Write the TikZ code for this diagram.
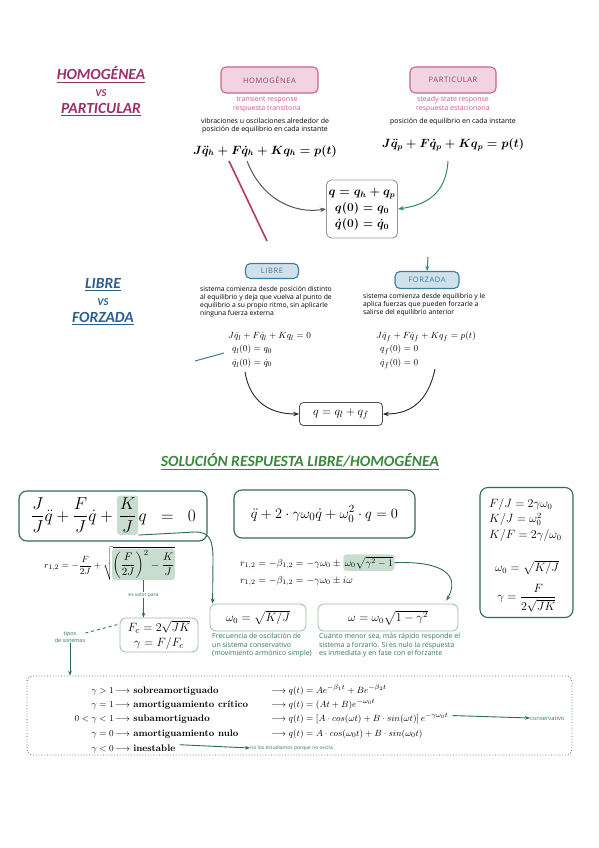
\documentclass[tikz,border=0pt]{standalone}
\usepackage{amsmath,amssymb}
\usepackage{fontspec}
\newfontfamily\titlefont{Carlito}
\newfontfamily\handfont{Open Sans}
\newfontfamily\tagfont[LetterSpace=8]{Open Sans}
\usetikzlibrary{arrows.meta,calc,backgrounds}
\definecolor{maroon}{HTML}{9B2F6E}
\definecolor{pinkfill}{HTML}{F2D4E0}
\definecolor{pinkdraw}{HTML}{C8658E}
\definecolor{pinktext}{HTML}{D0578A}
\definecolor{libblue}{HTML}{2D5F8E}
\definecolor{bluefill}{HTML}{CFE2EB}
\definecolor{bluedraw}{HTML}{3D7C9C}
\definecolor{titlegreen}{HTML}{3B873E}
\definecolor{dgreen}{HTML}{2F6B57}
\definecolor{hl}{HTML}{C8DDD0}
\definecolor{lgreen}{HTML}{9CBBA8}
\definecolor{txtgreen}{HTML}{2F7A55}
\definecolor{arrgray}{HTML}{555555}
\definecolor{redline}{HTML}{B43A66}
\definecolor{tealarrow}{HTML}{2E8B6A}
\newcommand\sqcontent{\left(\dfrac{F}{2J}\right)^2-\dfrac{K}{J}}
\begin{document}
\begin{tikzpicture}[x=1pt,y=-1pt,
  ttl/.style={font=\titlefont\bfseries\itshape\fontsize{15.5}{17}\selectfont, inner sep=0},
  vs/.style={font=\titlefont\bfseries\itshape\fontsize{10.5}{11}\selectfont, inner sep=0},
  tag/.style={rounded corners=5, line width=1.1pt, inner sep=0, font=\tagfont\fontsize{7.5}{8}\selectfont},
  pinktag/.style={tag, draw=pinkdraw, fill=pinkfill, text=pinkdraw!70!black},
  bluetag/.style={tag, draw=bluedraw, fill=bluefill, text=bluedraw},
  note/.style={font=\handfont\fontsize{7}{8.6}\selectfont, align=left, inner sep=0},
  cnote/.style={note, align=center},
  tiny/.style={font=\handfont\fontsize{5}{6}\selectfont, inner sep=0, text=txtgreen},
  gbox/.style={draw=dgreen, line width=1.1pt, rounded corners=8, inner sep=0},
  lbox/.style={draw=lgreen, line width=0.8pt, rounded corners=6, inner sep=0},
  hlnode/.style={fill=hl, rounded corners=3, inner xsep=1.5pt, inner ysep=2pt},
  chain/.style={inner xsep=0, inner ysep=2pt},
  garrow/.style={draw=dgreen, line width=0.9pt, -{Stealth[length=5pt]}},
  karrow/.style={draw=black!85, line width=0.9pt, -{Stealth[length=6pt]}},
  row/.style={font=\fontsize{9.5}{11}\selectfont, inner sep=0},
]
\useasboundingbox (0,0) rectangle (599,848);
\begin{scope}[on background layer]
\fill[white] (0,0) rectangle (599,848);
\end{scope}

% ---------------- HOMOGENEA vs PARTICULAR ----------------
\node[ttl,text=maroon] (tH) at (101,75) {\underline{HOMOGÉNEA}};
\node[vs,text=maroon] (tvs1) at (101,93) {VS};
\node[ttl,text=maroon] (tP) at (101,110) {\underline{PARTICULAR}};

\node[pinktag, minimum width=97, minimum height=26] (hbox) at (269.5,80) {HOMOGÉNEA};
\node[cnote, text=pinktext] (htr) at (267,104) {transient response\\respuesta transitoria};
\node[cnote] (hvib) at (265,125.5) {vibraciones u oscilaciones alrededor de\\posición de equilibrio en cada instante};
\node[font=\boldmath\fontsize{12}{14}\selectfont, inner sep=0] (heq) at (265,151) {$J\ddot{q}_h+F\dot{q}_h+Kq_h=p(t)$};

\node[pinktag, minimum width=86, minimum height=26] (pbox) at (453,80) {PARTICULAR};
\node[cnote, text=pinktext] (ptr) at (453,104) {steady-state response\\respuesta estacionaria};
\node[cnote] (pvib) at (453,122) {posición de equilibrio en cada instante};
\node[font=\boldmath\fontsize{12}{14}\selectfont, inner sep=0] (peq) at (453,145) {$J\ddot{q}_p+F\dot{q}_p+Kq_p=p(t)$};

\node[draw=gray!80, line width=0.9pt, rounded corners=5, minimum width=71, minimum height=58, align=center, inner sep=0,
      font=\boldmath\fontsize{11.5}{16}\selectfont] (sumbox) at (362,209) {$q=q_h+q_p$\\$q(0)=q_0$\\$\dot q(0)=\dot q_0$};

\coordinate (gs) at (247,161);
\draw[arrgray, line width=1pt, -{Stealth[length=6pt]}] (gs) .. controls (262,200) and (295,214) .. (sumbox.west);
\coordinate (gns) at (448,161);
\draw[tealarrow, line width=1pt, -{Stealth[length=6pt]}] (gns) .. controls (446,195) and (425,205) .. (sumbox.east);
\coordinate (r1) at (229,161);
\coordinate (r2) at (267,241);
\draw[redline, line width=1.6pt] (r1) -- (r2);

% ---------------- LIBRE vs FORZADA ----------------
\node[ttl,text=libblue] (tL) at (103,285) {\underline{LIBRE}};
\node[vs,text=libblue] (tvs2) at (103,302) {VS};
\node[ttl,text=libblue] (tF) at (103,319) {\underline{FORZADA}};

\node[bluetag, minimum width=53, minimum height=15] (lbox) at (272,271) {LIBRE};
\node[note, anchor=north west, font=\handfont\fontsize{6.8}{8}\selectfont] (ldesc) at (200,286) {sistema comienza desde posición distinto\\al equilibrio y deja que vuelva al punto de\\equilibrio a su propio ritmo, sin aplicarle\\ninguna fuerza externa};

\node[bluetag, minimum width=64, minimum height=17] (fbox) at (427,280) {FORZADA};
\coordinate (fa) at (428,257);
\draw[tealarrow, line width=1pt, -{Stealth[length=5pt]}] (fa) -- (fbox.north);
\node[note, anchor=north west, font=\handfont\fontsize{6.8}{8}\selectfont] (fdesc) at (363,293) {sistema comienza desde equilibrio y le\\aplica fuerzas que pueden forzarle a\\salirse del equilibrio anterior};

\node[align=left, anchor=west, font=\fontsize{9.3}{13.5}\selectfont, inner sep=0] (leq) at (228,350)
  {$J\ddot{q}_l+F\dot{q}_l+Kq_l=0$\\\hspace*{4pt}$q_l(0)=q_0$\\\hspace*{4pt}$\dot q_l(0)=\dot q_0$};
\coordinate (bl) at (195,361);
\draw[bluedraw, line width=1pt] (bl) -- ($(leq.west)+(-4,3)$);

\node[align=left, anchor=west, font=\fontsize{9.3}{13.5}\selectfont, inner sep=0] (feq) at (376,350)
  {$J\ddot{q}_f+F\dot{q}_f+Kq_f=p(t)$\\\hspace*{4pt}$q_f(0)=0$\\\hspace*{4pt}$\dot q_f(0)=0$};

\node[draw=black!70, rounded corners=4, line width=0.8pt, minimum width=83, minimum height=23, inner sep=0,
      font=\fontsize{13}{15}\selectfont] (qbox) at (341,414) {$q=q_l+q_f$};
\coordinate (la) at (245,372);
\draw[karrow] (la) .. controls (250,402) and (270,414) .. (qbox.west);
\coordinate (ra) at (435,369);
\draw[karrow] (ra) .. controls (428,402) and (410,414) .. (qbox.east);

% ---------------- SOLUCION ----------------
\node[font=\titlefont\bfseries\itshape\fontsize{15.6}{17}\selectfont, inner sep=0, text=titlegreen] (tS) at (300,462)
  {\underline{SOLUCIÓN RESPUESTA LIBRE/HOMOGÉNEA}};

% box 1
\node[gbox, minimum width=188, minimum height=50] (b1) at (113,516) {};
\node[chain, anchor=base west, font=\fontsize{16}{18}\selectfont] (e1) at (31,521) {$\dfrac{J}{J}\ddot{q}+\dfrac{F}{J}\dot{q}+{}$};
\node[hlnode, anchor=base west, font=\fontsize{16}{18}\selectfont] (hlK) at (e1.base east) {$\dfrac{K}{J}$};
\node[chain, anchor=base west, font=\fontsize{16}{18}\selectfont] (e3) at (hlK.base east) {$q\;\;=\;\;0$};

% box 2
\node[gbox, minimum width=181, minimum height=48, font=\fontsize{15}{17}\selectfont] (b2) at (324.5,514) {$\ddot q+2\cdot\gamma\omega_0\dot q+\omega_0^2\cdot q=0$};

% box 3
\node[gbox, minimum width=93, minimum height=130] (b3) at (526.5,552.5) {};
\node[font=\fontsize{11.5}{15.5}\selectfont, align=left, anchor=north west, inner sep=0] (b3a) at (489,498)
  {$F/J=2\gamma\omega_0$\\$K/J=\omega_0^2$\\$K/F=2\gamma/\omega_0$};
\node[font=\fontsize{11.5}{14}\selectfont, inner sep=0] (b3b) at (527,568) {$\omega_0=\sqrt{K/J}$};
\node[font=\fontsize{11.5}{14}\selectfont, inner sep=0] (b3c) at (527,598) {$\gamma=\dfrac{F}{2\sqrt{JK}}$};

% r equations
\node[chain, anchor=base west, font=\fontsize{9.5}{11}\selectfont] (rs) at (44,568)
  {$r_{1,2}=-\dfrac{F}{2J}+\sqrt{\mbox{\fontsize{11}{13}\selectfont$\displaystyle\phantom{\sqcontent}$}}$};
\begin{scope}[on background layer]
\node[fill=hl, rounded corners=3, inner xsep=0.5pt, inner ysep=1.5pt, anchor=base east, font=\fontsize{11}{13}\selectfont] (hlS) at (rs.base east)
  {$\displaystyle\sqcontent$};
\end{scope}

\node[chain, anchor=base west, font=\fontsize{10}{12}\selectfont] (rl1) at (240,566) {$r_{1,2}=-\beta_{1,2}=-\gamma\omega_0\pm{}$};
\node[hlnode, anchor=base west, font=\fontsize{10}{12}\selectfont] (hlW) at (rl1.base east) {$\omega_0\sqrt{\gamma^2-1}$};
\node[chain, anchor=base west, font=\fontsize{10}{12}\selectfont] (rl2) at (240,583) {$r_{1,2}=-\beta_{1,2}=-\gamma\omega_0\pm i\omega$};

% small boxes
\node[lbox, minimum width=78, minimum height=34, align=center, font=\fontsize{12.5}{15}\selectfont] (fcbox) at (159,635)
  {$F_c=2\sqrt{JK}$\\$\gamma=F/F_c$};
\node[lbox, minimum width=96, minimum height=27, font=\fontsize{11.5}{13}\selectfont] (w0box) at (258,617.5) {$\omega_0=\sqrt{K/J}$};
\node[note, text=txtgreen, anchor=north west] (w0note) at (212,633) {Frecuencia de oscilación de\\un sistema conservativo\\(movimiento armónico simple)};
\node[lbox, minimum width=140, minimum height=27, font=\fontsize{12}{13}\selectfont] (wbox) at (388,617.5) {$\omega=\omega_0\sqrt{1-\gamma^2}$};
\node[note, text=txtgreen, anchor=north west] (wnote) at (319,633) {Cuanto menor sea, más rápido responde el\\sistema a forzarlo. Si es nulo la respuesta\\es inmediata y en fase con el forzante};

% connectors in solution
\path (hlS.south) ++(0,15) node[tiny] (valor) {es valor para};
\draw[dgreen, line width=0.9pt] (hlS.south) -- (valor.north);
\draw[garrow] (valor.south) -- (valor.south |- fcbox.north);
\coordinate (w0in) at ($(w0box.north west)+(3,0)$);
\draw[garrow] (hlK.south east) -- (195,532) .. controls (210,532) and (213,540) .. (213,560) -- (w0in);
\coordinate (win) at ($(wbox.north east)+(-12,-3)$);
\draw[garrow] (hlW.east) .. controls (445,561) and (460,576) .. (win);

\node[tiny, align=center, font=\handfont\fontsize{5.5}{7}\selectfont] (tipos) at (70,637) {tipos\\de sistemas};
\draw[txtgreen, dashed, line width=0.9pt] ($(tipos.east)+(0,-4)$) -- ($(fcbox.west)+(0,-11)$);

% types
\node[draw=txtgreen, dotted, line width=0.8pt, rounded corners=6, minimum width=545, minimum height=79, inner sep=0] (types) at (299.5,715.5) {};
\draw[garrow] (tipos.south) -- (tipos.south |- types.north);

\node[row, anchor=base east] (c1) at (114,693) {$\gamma>1$};
\node[row, anchor=base west] (n1) at (115,693) {$\longrightarrow$ \textbf{sobreamortiguado}};
\node[row, anchor=base west] (s1) at (271,693) {$\longrightarrow q(t)=Ae^{-\beta_1 t}+Be^{-\beta_2 t}$};

\node[row, anchor=base east] (c2) at (114,707) {$\gamma=1$};
\node[row, anchor=base west] (n2) at (115,707) {$\longrightarrow$ \textbf{amortiguamiento crítico}};
\node[row, anchor=base west] (s2) at (271,707) {$\longrightarrow q(t)=(At+B)e^{-\omega_0 t}$};

\node[row, anchor=base east] (c3) at (114,721.5) {$0<\gamma<1$};
\node[row, anchor=base west] (n3) at (115,721.5) {$\longrightarrow$ \textbf{subamortiguado}};
\node[row, anchor=base west] (s3) at (271,721.5) {$\longrightarrow q(t)=\left[A\cdot cos(\omega t)+B\cdot sin(\omega t)\right]e^{-\gamma\omega_0 t}$};
\node[tiny, anchor=west, font=\handfont\fontsize{5.8}{7}\selectfont] (cons) at (530,718) {conservativo};
\draw[garrow] (s3.east) ++(4,-3) coordinate (s3e) (s3e) -- (cons.west);

\node[row, anchor=base east] (c4) at (114,736) {$\gamma=0$};
\node[row, anchor=base west] (n4) at (115,736) {$\longrightarrow$ \textbf{amortiguamiento nulo}};
\node[row, anchor=base west] (s4) at (271,736) {$\longrightarrow q(t)=A\cdot cos(\omega_0 t)+B\cdot sin(\omega_0 t)$};

\node[row, anchor=base east] (c5) at (114,751) {$\gamma<0$};
\node[row, anchor=base west] (n5) at (115,751) {$\longrightarrow$ \textbf{inestable}};
\node[tiny, anchor=west] (noosc) at (250,748) {no los estudiamos porque no oscila};
\draw[garrow] ($(n5.east)+(4,-3)$) -- (noosc.west);
\end{tikzpicture}
\end{document}
